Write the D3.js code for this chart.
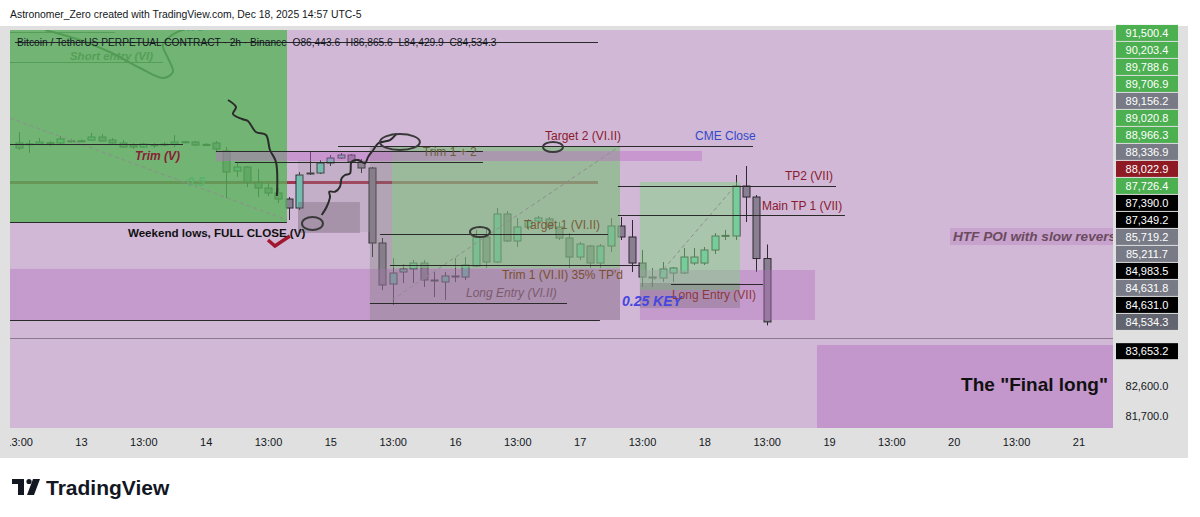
<!DOCTYPE html>
<html>
<head>
<meta charset="utf-8">
<script src="https://cdn.jsdelivr.net/npm/d3@7"></script>
<style>
  body { margin: 0; background: #fff; }
  svg { display: block; font-family: "Liberation Sans", Arial, sans-serif; }
</style>
</head>
<body>
<svg width="1200" height="517"></svg>
<script>
// BTCUSDT.P 2h, Binance - chart time UTC-5
var svg = d3.select("svg"),
    plot = {left: 10, top: 30, right: 1113, bottom: 428};

var firstBar = Date.UTC(2025, 11, 12, 13),   // Dec 12 13:00
    barMs = 2 * 3600 * 1000;
function barTime(k) { return new Date(firstBar + k * barMs); }

// candles
var opens = [89923, 89900, 89893, 89930, 89923, 89990, 89980, 90013, 90103, 90013,
  89923, 89863, 89802, 89860, 89880, 89893, 89950, 89953, 89870, 89923,
  89682, 89079, 89200, 88718, 88567, 88417, 88236, 87965, 88989, 89019,
  89320, 89471, 89561, 89350, 89170, 86911, 85676, 86037, 86128, 86308,
  85796, 85736, 85917, 85887, 86218, 87092, 86338, 87784, 86971, 87393,
  87573, 87634, 87393, 87062, 86489, 86821, 86308, 86821, 87423, 87092,
  86308, 85887, 85857, 86007, 86007, 86308, 86308, 86700, 87122, 87122,
  88628, 88296, 86443.6];
var highs = [90254, 90013, 90073, 89983, 90133, 90040, 90030, 90224, 90194, 90073,
  90013, 89923, 89930, 89923, 89953, 90164, 89990, 89990, 89920, 89983,
  89802, 89350, 89230, 89140, 88718, 88567, 88296, 89049, 89682, 89411,
  89561, 89622, 89592, 89441, 89200, 87062, 86459, 86278, 86399, 86399,
  86037, 86037, 86459, 86489, 87303, 87393, 87965, 87875, 87664, 87634,
  87724, 87694, 87543, 87212, 86941, 86851, 86881, 87664, 87694, 87604,
  86700, 86158, 86338, 86188, 86760, 86760, 86790, 87212, 87303, 88959,
  89230, 88356, 86865.6];
var lows = [89712, 89622, 89863, 89832, 89893, 89940, 89950, 89983, 89970, 89893,
  89772, 89742, 89780, 89772, 89830, 89802, 89920, 89830, 89850, 89652,
  88266, 88899, 88597, 88296, 88326, 88116, 87604, 87905, 88959, 88989,
  89230, 89441, 89320, 89019, 86489, 85495, 85043, 85706, 85706, 85586,
  85284, 85194, 85736, 85796, 86188, 86158, 86308, 86941, 86790, 87303,
  87513, 87303, 87001, 86158, 86399, 86158, 86158, 86640, 87001, 86037,
  85586, 85586, 85736, 85736, 85977, 86248, 86248, 86579, 87001, 87001,
  87543, 86037, 84429.9];
var closes = [89772, 89880, 89953, 89915, 90043, 89980, 89990, 90103, 89983, 89923,
  89802, 89802, 89893, 89870, 89890, 89953, 89960, 89863, 89880, 89742,
  89049, 89200, 88748, 88567, 88417, 88236, 87965, 88959, 89019, 89320,
  89471, 89561, 89350, 89170, 86911, 85646, 86007, 86128, 86308, 85796,
  85766, 85917, 85900, 86248, 87092, 86338, 87784, 86971, 87393, 87573,
  87664, 87393, 87062, 86489, 86881, 86308, 86821, 87423, 87092, 86308,
  85887, 85870, 86128, 86158, 86489, 86489, 86700, 87122, 87140, 88628,
  88296, 86443.6, 84534.3];

// time axis: a label every 12 bars starting at the first bar
var timeTickLabels = ["13:00", "13", "13:00", "14", "13:00", "15", "13:00", "16", "13:00",
  "17", "13:00", "18", "13:00", "19", "13:00", "20", "13:00", "21"];
var priceTicks = [81700, 82600];

// price labels on the right scale
var axisLabels = [91500.4, 90203.4, 89788.6, 89706.9, 89156.2, 89020.8, 88966.3, 88336.9,
  88022.9, 87726.4, 87390.0, 87349.2, 85719.2, 85211.7, 84983.5, 84631.8, 84631.0,
  84534.3, 83653.2];
var axisLabelKinds = ["up", "up", "up", "up", "grey", "up", "up", "grey", "red", "up",
  "black", "black", "grey", "grey", "black", "grey", "black", "last", "black"];

// drawings: [name, fromBar, toBar, lowPrice, highPrice]
var zones = [
  ["shortZone", -0.83, 25.83, 87543, 93387],
  ["demandA", -0.83, 57.88, 84592, 86130],
  ["demandB", 59.8, 76.65, 84592, 86098],
  ["finalLong", 76.84, 105.33, 81339, 83839],
  ["greyBoxM", 33.81, 57.88, 84592, 89832],
  ["longVI", 35.93, 57.88, 86158, 89832],
  ["greyBoxL", 26.89, 33.81, 87242, 89411],
  ["greyBoxLdark", 26.89, 32.85, 87212, 88145],
  ["longVII", 59.8, 69.43, 85495, 88748],
  ["stopVII", 59.8, 69.43, 84953, 85706],
  ["poiBand", 18.99, 65.77, 89381, 89682]
];
// [name, fromBar, toBar, price]
var levels = [
  ["legendRule", -0.35, 55.76, 92965],
  ["trimV", -0.83, 15.82, 89893],
  ["poiTop", 18.99, 44.69, 89682],
  ["poiBottom", 20.82, 44.69, 89350],
  ["target2", 30.74, 70.68, 89832],
  ["tp2VII", 57.68, 78.67, 88628],
  ["tp1VII", 57.68, 79.53, 87754],
  ["weekendLows", -0.83, 25.83, 87543],
  ["target1", 34.78, 56.72, 87182],
  ["trim1", 35.74, 59.8, 86248],
  ["entryVII", 62.79, 71.64, 85676],
  ["entryVI", 33.81, 52.78, 85104],
  ["stopVI", -0.83, 55.95, 84592],
  ["htfLow", -0.83, 105.33, 84049]
];
var levelsUnder = [
  ["keyRed", -0.83, 55.76, 88748],
  ["shortEntry", -0.83, 13.89, 92362],
  ["topGrey", -0.83, 9.27, 93266]
];
// dashed diagonals of the position tools: [fromBar, fromPrice, toBar, toPrice]
var diagonals = [
  [-0.83, 90676, 25.83, 87604],
  [35.93, 85194, 57.88, 89832],
  [60.77, 85646, 68.95, 88628]
];
// freehand strokes: lists of [bar, price]
var strokeArrow = [[20.15, 91218], [20.92, 91007], [20.63, 90796], [21.5, 90646], [22.07, 90585],
  [22.84, 90254], [23.81, 90164], [24.19, 89712], [24.77, 89350], [24.86, 88326]];
var strokeRecovery = [[29.17, 87754], [29.65, 88004], [29.97, 88305], [29.9, 88456], [30.45, 88456],
  [30.93, 88607], [31.09, 88860], [31.41, 88959], [31.89, 89010], [32.05, 89360], [32.69, 89411],
  [33.33, 89311], [33.65, 89510], [34.13, 89712], [34.61, 89914], [35.1, 89962], [35.74, 90013],
  [36.39, 90215]];
var strokeTop = [[2.54, 93326], [5.9, 93025], [8.98, 92634], [11.68, 92182], [13.89, 91881],
  [14.85, 92061], [14.37, 92483], [13.89, 92875], [14.76, 93176], [16.3, 93387]];
// circled spots: [bar, price, radiusBars, radiusPrice]
var circles = [
  [28.28, 87498, 1.01, 196],
  [36.7, 89953, 1.92, 241],
  [51.43, 89802, 0.96, 151],
  [44.4, 87242, 0.96, 151]
];
var checkMark = [[24.0, 87001], [24.67, 86821], [26.1, 87122]];
// notes: [text, bar, price]  (the HTF note runs off the plot edge in the original)
var notes = [
  ["Trim (V)", 11.2, 89411],
  ["Weekend lows, FULL CLOSE (V)", 10.52, 87092],
  ["Trim 1 + 2", 38.9, 89531],
  ["Target 2 (VI.II)", 50.66, 90013],
  ["CME Close", 65.1, 90013],
  ["TP2 (VII)", 73.76, 88808],
  ["Main TP 1 (VII)", 71.54, 87905],
  ["Target 1 (VI.II)", 48.64, 87333],
  ["Trim 1 (VI.II) 35% TP'd", 46.52, 85826],
  ["Long Entry (VI.II)", 43.06, 85284],
  ["0.25 KEY", 58.07, 85013],
  ["Long Entry (VII)", 62.88, 85224],
  ["HTF POI with slow revers", 89.93, 86971],
  ["The \"Final long\"", 104.84, 82453]
];
var notesUnder = [
  ["Short entry (VI)", 4.94, 92423],
  ["0.5", 16.2, 88628],
  ["0.75", 15.53, 93296]
];

var x = d3.scaleUtc()
    .domain([barTime(-0.83), barTime(105.33)])
    .range([plot.left, plot.right]);
var y = d3.scaleLinear()
    .domain([81339, 93387])
    .range([428, 28]);
function bx(k) { return x(barTime(k)); }

var zoneFill = {
  shortZone: "rgba(86,180,88,0.78)",
  demandA: "rgba(180,110,190,0.4)",
  demandB: "rgba(180,110,190,0.4)",
  finalLong: "rgba(180,110,190,0.45)",
  greyBoxM: "rgba(130,130,130,0.38)",
  longVI: "rgba(130,210,130,0.5)",
  greyBoxL: "rgba(150,150,150,0.22)",
  greyBoxLdark: "rgba(100,80,100,0.3)",
  longVII: "rgba(130,210,130,0.5)",
  stopVII: "rgba(110,100,110,0.3)",
  poiBand: "rgba(190,110,200,0.45)"
};
var noteStyle = {
  "Trim (V)": {fill: "#8b2035", size: 12, weight: "bold", italic: true},
  "Weekend lows, FULL CLOSE (V)": {fill: "#111", size: 11.6, weight: "bold"},
  "Trim 1 + 2": {fill: "#6b5e3c", size: 12},
  "Target 2 (VI.II)": {fill: "#8b1a2e", size: 12},
  "CME Close": {fill: "#3348c8", size: 12},
  "TP2 (VII)": {fill: "#8b1a2e", size: 12},
  "Main TP 1 (VII)": {fill: "#8b1a2e", size: 12},
  "Target 1 (VI.II)": {fill: "#7a5a3a", size: 12},
  "Trim 1 (VI.II) 35% TP'd": {fill: "#7a5030", size: 12},
  "Long Entry (VI.II)": {fill: "#7b5a6e", size: 12, italic: true},
  "0.25 KEY": {fill: "#4646e0", size: 14, weight: "bold", italic: true},
  "Long Entry (VII)": {fill: "#8b3a3a", size: 12},
  "HTF POI with slow revers": {fill: "#6b4a5e", size: 13.6, weight: "bold", italic: true, bg: "rgba(180,120,190,0.35)"},
  "The \"Final long\"": {fill: "#111", size: 19, weight: "bold", anchor: "end"},
  "Short entry (VI)": {fill: "#555", size: 11.5, weight: "bold", italic: true},
  "0.5": {fill: "#6aa5b8", size: 13, weight: "bold", italic: true},
  "0.75": {fill: "#3a5bd9", size: 12, weight: "bold"}
};
var labelColor = {up: "#4caf50", grey: "#787b86", red: "#8e1a24", black: "#000", last: "#62656f"};

// frame
svg.append("rect").attr("x", 0).attr("y", 26).attr("width", 1188).attr("height", 432).attr("fill", "#e0e0e0");
svg.append("text").attr("x", 10).attr("y", 18).attr("font-size", 10.4).attr("fill", "#131722")
    .text("Astronomer_Zero created with TradingView.com, Dec 18, 2025 14:57 UTC-5");

svg.append("clipPath").attr("id", "plotClip").append("rect")
    .attr("x", plot.left).attr("y", plot.top)
    .attr("width", plot.right - plot.left).attr("height", plot.bottom - plot.top);
var g = svg.append("g").attr("clip-path", "url(#plotClip)");
g.append("rect").attr("x", plot.left).attr("y", plot.top)
    .attr("width", plot.right - plot.left).attr("height", plot.bottom - plot.top)
    .attr("fill", "#d0b8d6");

function drawLevels(sel, data) {
  sel.selectAll(null).data(data).enter().append("line")
      .attr("x1", function (d) { return bx(d[1]); })
      .attr("x2", function (d) { return bx(d[2]); })
      .attr("y1", function (d) { return Math.round(y(d[3])) + 0.5; })
      .attr("y2", function (d) { return Math.round(y(d[3])) + 0.5; })
      .attr("stroke", function (d) {
        if (d[0] == "keyRed") return "rgba(150,20,45,0.8)";
        if (d[0] == "htfLow") return "#8c7a8e";
        if (d[0] == "topGrey" || d[0] == "shortEntry") return "#555";
        return "#2a2a2a";
      })
      .attr("stroke-width", function (d) { return d[0] == "keyRed" ? 3 : 1; });
}
function drawNotes(sel, data) {
  data.forEach(function (d) {
    var s = noteStyle[d[0]];
    var t = sel.append("text")
        .attr("x", bx(d[1])).attr("y", y(d[2]))
        .attr("font-size", s.size)
        .attr("font-weight", s.weight || "normal")
        .attr("font-style", s.italic ? "italic" : "normal")
        .attr("text-anchor", s.anchor || "start")
        .attr("fill", s.fill)
        .text(d[0]);
    if (s.bg) {
      var b = t.node().getBBox();
      sel.insert("rect", function () { return t.node(); })
          .attr("x", b.x - 3).attr("y", b.y - 1)
          .attr("width", plot.right - b.x + 3).attr("height", b.height + 2)
          .attr("fill", s.bg);
    }
  });
}
var stroke = d3.line()
    .x(function (d) { return bx(d[0]); })
    .y(function (d) { return y(d[1]); })
    .curve(d3.curveCatmullRom);

// drawings that sit under the short position box
drawLevels(g, levelsUnder);
drawNotes(g, notesUnder);
g.append("path").attr("d", stroke(strokeTop)).attr("fill", "none")
    .attr("stroke", "#444").attr("stroke-width", 2);

// candles
var candles = opens.map(function (o, k) {
  return {t: barTime(k), o: o, h: highs[k], l: lows[k], c: closes[k]};
});
var bodyW = 7;
var cg = g.append("g").selectAll("g").data(candles).enter().append("g");
cg.append("line")
    .attr("x1", function (d) { return Math.round(x(d.t)) + 0.5; })
    .attr("x2", function (d) { return Math.round(x(d.t)) + 0.5; })
    .attr("y1", function (d) { return y(d.h); })
    .attr("y2", function (d) { return y(d.l); })
    .attr("stroke", "#2e2a30");
cg.append("rect")
    .attr("x", function (d) { return Math.round(x(d.t)) - bodyW / 2 + 0.5; })
    .attr("y", function (d) { return y(Math.max(d.o, d.c)); })
    .attr("width", bodyW)
    .attr("height", function (d) { return Math.max(1, Math.abs(y(d.o) - y(d.c))); })
    .attr("fill", function (d) { return d.c >= d.o ? "#6cc6b6" : "#8a7f92"; })
    .attr("stroke", "#2e2a30");

// boxes
g.append("g").selectAll("rect").data(zones).enter().append("rect")
    .attr("x", function (d) { return bx(d[1]); })
    .attr("width", function (d) { return bx(d[2]) - bx(d[1]); })
    .attr("y", function (d) { return y(d[4]); })
    .attr("height", function (d) { return y(d[3]) - y(d[4]); })
    .attr("fill", function (d) { return zoneFill[d[0]]; });

g.append("g").selectAll("line").data(diagonals).enter().append("line")
    .attr("x1", function (d) { return bx(d[0]); })
    .attr("y1", function (d) { return y(d[1]); })
    .attr("x2", function (d) { return bx(d[2]); })
    .attr("y2", function (d) { return y(d[3]); })
    .attr("stroke", "#8e8e8e").attr("stroke-dasharray", "4,3");

drawLevels(g, levels);

[strokeArrow, strokeRecovery].forEach(function (s) {
  g.append("path").attr("d", stroke(s)).attr("fill", "none")
      .attr("stroke", "#2b2b2b").attr("stroke-width", 2);
});
g.selectAll(".loop").data(circles).enter().append("ellipse")
    .attr("cx", function (d) { return bx(d[0]); })
    .attr("cy", function (d) { return y(d[1]); })
    .attr("rx", function (d) { return bx(d[0] + d[2]) - bx(d[0]); })
    .attr("ry", function (d) { return y(d[1] - d[3]) - y(d[1]); })
    .attr("fill", "none").attr("stroke", "#3a3a3a").attr("stroke-width", 2);
g.append("path").attr("d", d3.line().x(function (d) { return bx(d[0]); }).y(function (d) { return y(d[1]); })(checkMark))
    .attr("fill", "none").attr("stroke", "#a0182e").attr("stroke-width", 3.5);

drawNotes(g, notes);

// legend
svg.append("text").attr("x", 17).attr("y", 46).attr("font-size", 10.2).attr("fill", "#131722")
    .attr("xml:space", "preserve")
    .text("Bitcoin / TetherUS PERPETUAL CONTRACT \u00b7 2h \u00b7 Binance  O86,443.6  H86,865.6  L84,429.9  C84,534.3");

// time axis
var tickTimes = timeTickLabels.map(function (l, i) { return barTime(i * 6); });
svg.append("clipPath").attr("id", "timeClip").append("rect")
    .attr("x", plot.left).attr("y", 0).attr("width", 1180).attr("height", 30);
svg.append("g")
    .attr("clip-path", "url(#timeClip)")
    .attr("transform", "translate(0," + plot.bottom + ")")
    .call(d3.axisBottom(x).tickValues(tickTimes).tickSize(0).tickPadding(10)
        .tickFormat(function (d, i) { return timeTickLabels[i]; }))
    .call(function (a) {
      a.select(".domain").remove();
      a.selectAll("text").attr("font-size", 11).attr("fill", "#131722")
          .attr("font-family", "Liberation Sans, Arial, sans-serif");
    });

// price axis
svg.append("g")
    .attr("transform", "translate(" + plot.right + ",0)")
    .call(d3.axisRight(y).tickValues(priceTicks).tickSize(0).tickPadding(34)
        .tickFormat(d3.format(",.1f")))
    .call(function (a) {
      a.select(".domain").remove();
      a.selectAll("text").attr("font-size", 11).attr("fill", "#131722")
          .attr("text-anchor", "middle")
          .attr("font-family", "Liberation Sans, Arial, sans-serif");
    });

var labs = axisLabels.map(function (p, i) { return {p: p, kind: axisLabelKinds[i]}; })
    .sort(function (a, b) { return a.p - b.p; });
var prev = Infinity;
labs.forEach(function (d) {
  d.y = Math.min(y(d.p), prev - 17);
  prev = d.y;
});
var lg = svg.append("g").selectAll("g").data(labs).enter().append("g")
    .attr("transform", function (d) { return "translate(1116," + d.y + ")"; });
lg.append("rect").attr("x", 0).attr("y", -8).attr("width", 62).attr("height", 16)
    .attr("fill", function (d) { return labelColor[d.kind]; });
lg.append("text").attr("x", 31).attr("y", 4).attr("text-anchor", "middle")
    .attr("font-size", 11).attr("fill", "#fff")
    .text(function (d) { return d3.format(",.1f")(d.p); });

// logo
var logo = svg.append("g").attr("fill", "#131722");
logo.append("path").attr("d", "M12,479H24V495H18V484H12Z");
logo.append("circle").attr("cx", 29).attr("cy", 481.5).attr("r", 2.6);
logo.append("path").attr("d", "M33,479H40L34,495H27Z");
svg.append("text").attr("x", 46).attr("y", 495).attr("font-size", 21).attr("font-weight", "bold")
    .attr("fill", "#131722").text("TradingView");
</script>
</body>
</html>
